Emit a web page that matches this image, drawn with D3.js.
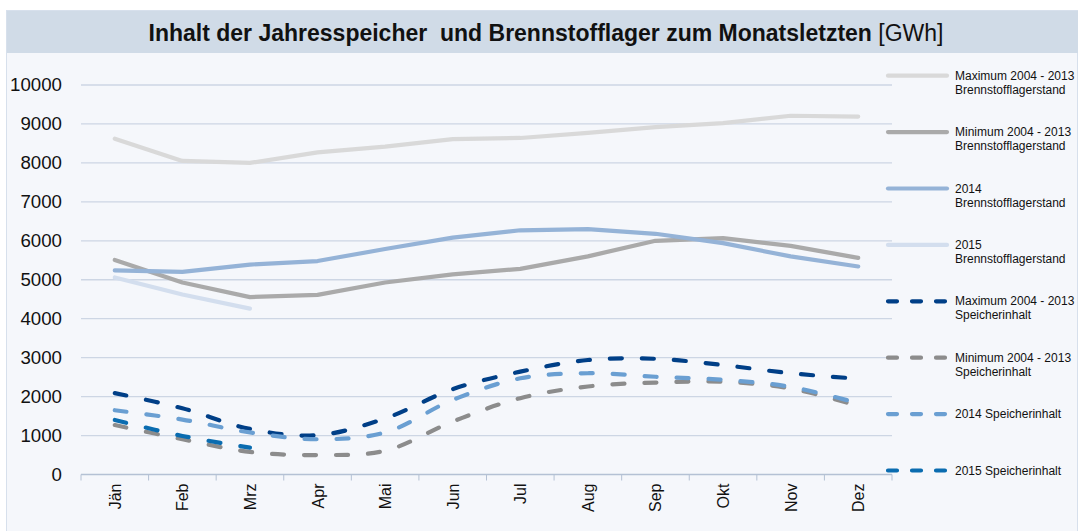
<!DOCTYPE html>
<html>
<head>
<meta charset="utf-8">
<script src="https://cdn.jsdelivr.net/npm/d3@7"></script>
<style>
  body { margin: 0; background: #fff; }
  svg { display: block; font-family: Arial, 'Liberation Sans', sans-serif; }
</style>
</head>
<body>
<svg></svg>
<script>
'use strict'

const months = ['Jän', 'Feb', 'Mrz', 'Apr', 'Mai', 'Jun', 'Jul', 'Aug', 'Sep', 'Okt', 'Nov', 'Dez']
const yTicks = [0, 1000, 2000, 3000, 4000, 5000, 6000, 7000, 8000, 9000, 10000]

const maxBrenn = [8620, 8050, 8000, 8270, 8420, 8610, 8640, 8770, 8920, 9020, 9210, 9190]
const minBrenn = [5510, 4930, 4555, 4610, 4930, 5140, 5280, 5600, 6000, 6070, 5870, 5560]
const brenn2014 = [5240, 5200, 5390, 5480, 5790, 6080, 6270, 6300, 6180, 5940, 5600, 5340]
const brenn2015 = [5060, 4620, 4260]
const maxSpeicher = [2090, 1700, 1170, 1010, 1440, 2190, 2640, 2940, 2970, 2810, 2600, 2460]
const minSpeicher = [1270, 905, 580, 500, 610, 1360, 1960, 2260, 2360, 2380, 2210, 1760]
const speicher2014 = [1650, 1410, 1080, 905, 1080, 1915, 2470, 2600, 2510, 2430, 2250, 1830]
const speicher2015 = [1400, 990, 690]

const series = [
  { name: ['Maximum 2004 - 2013', 'Brennstofflagerstand'], values: maxBrenn, color: '#d9d9d9', dashed: false },
  { name: ['Minimum 2004 - 2013', 'Brennstofflagerstand'], values: minBrenn, color: '#aaaaaa', dashed: false },
  { name: ['2014', 'Brennstofflagerstand'], values: brenn2014, color: '#95b3d7', dashed: false },
  { name: ['2015', 'Brennstofflagerstand'], values: brenn2015, color: '#d3deee', dashed: false },
  { name: ['Maximum 2004 - 2013', 'Speicherinhalt'], values: maxSpeicher, color: '#003f87', dashed: true },
  { name: ['Minimum 2004 - 2013', 'Speicherinhalt'], values: minSpeicher, color: '#8c8c8c', dashed: true },
  { name: ['2014 Speicherinhalt'], values: speicher2014, color: '#6a9fd2', dashed: true },
  { name: ['2015 Speicherinhalt'], values: speicher2015, color: '#0a6cb0', dashed: true }
]

const W = 1078, H = 531
const plot = { left: 81, right: 892, top: 85, bottom: 474.5 }

const svg = d3.select('svg').attr('width', W).attr('height', H)

// chart frame and title bar
svg.append('rect')
  .attr('x', 6.5).attr('y', 10.5).attr('width', W - 7).attr('height', H - 10)
  .attr('fill', '#f5f7fb').attr('stroke', '#d7e0ec')
svg.append('rect')
  .attr('x', 7).attr('y', 11).attr('width', W - 7).attr('height', 42)
  .attr('fill', '#d0dbe7')

const title = svg.append('text')
  .attr('x', 546).attr('y', 41)
  .attr('text-anchor', 'middle')
  .style('font-size', '23px')
  .attr('fill', '#111')
title.append('tspan').style('font-weight', 'bold').text('Inhalt der Jahresspeicher\u00a0 und Brennstofflager zum Monatsletzten ')
title.append('tspan').text('[GWh]')

const x = d3.scaleBand().domain(months).range([plot.left, plot.right])
const y = d3.scaleLinear().domain([0, 10000]).range([plot.bottom, plot.top])

// grid
svg.append('g')
  .selectAll('line')
  .data(yTicks.slice(1))
  .join('line')
  .attr('x1', plot.left).attr('x2', plot.right)
  .attr('y1', d => y(d)).attr('y2', d => y(d))
  .attr('stroke', '#cdd6e4').attr('stroke-width', 1.3)

// y axis labels
svg.append('g')
  .attr('transform', 'translate(' + (plot.left - 19) + ',0)')
  .call(d3.axisLeft(y).tickValues(yTicks).tickSize(0).tickPadding(0).tickFormat(d3.format('d')))
  .call(g => g.select('.domain').remove())
  .selectAll('text')
  .style('font-size', '18.7px')
  .style('font-family', 'Arial, Liberation Sans, sans-serif')
  .attr('fill', '#111')

// x axis
const xAxis = svg.append('g')
  .attr('transform', 'translate(0,' + plot.bottom + ')')
xAxis.append('line')
  .attr('x1', plot.left).attr('x2', plot.right)
  .attr('stroke', '#b4c1d4').attr('stroke-width', 1.3)
xAxis.selectAll('.tick-mark')
  .data(d3.range(months.length + 1))
  .join('line')
  .attr('class', 'tick-mark')
  .attr('x1', i => plot.left + i * x.step()).attr('x2', i => plot.left + i * x.step())
  .attr('y1', 0).attr('y2', 6)
  .attr('stroke', '#b4c1d4')
xAxis.selectAll('text')
  .data(months)
  .join('text')
  .attr('transform', d => 'translate(' + (x(d) + x.bandwidth() / 2 + 6) + ',9) rotate(-90)')
  .attr('text-anchor', 'end')
  .style('font-size', '16px')
  .attr('fill', '#111')
  .text(d => d)

// lines
const line = d3.line()
  .x((d, i) => x(months[i]) + x.bandwidth() / 2)
  .y(d => y(d))

const smooth = d3.line()
  .x((d, i) => x(months[i]) + x.bandwidth() / 2)
  .y(d => y(d))
  .curve(d3.curveCatmullRom.alpha(0.5))

svg.append('g')
  .selectAll('path')
  .data(series)
  .join('path')
  .attr('d', d => d.dashed ? smooth(d.values) : line(d.values))
  .attr('fill', 'none')
  .attr('stroke', d => d.color)
  .attr('stroke-width', 4.2)
  .attr('stroke-linecap', 'round')
  .attr('stroke-linejoin', 'round')
  .attr('stroke-dasharray', d => d.dashed ? '12,20' : null)

// legend
const legend = svg.append('g')
  .selectAll('g')
  .data(series)
  .join('g')
  .attr('transform', (d, i) => 'translate(886,' + (75.7 + i * 56.4) + ')')

legend.append('line')
  .attr('x1', 2).attr('x2', 61)
  .attr('stroke', d => d.color)
  .attr('stroke-width', 4.2)
  .attr('stroke-linecap', 'round')
  .attr('stroke-dasharray', d => d.dashed ? '9,15' : null)

legend.append('text')
  .attr('x', 69)
  .attr('y', 4)
  .style('font-size', '12px')
  .attr('fill', '#111')
  .selectAll('tspan')
  .data(d => d.name)
  .join('tspan')
  .attr('x', 69)
  .attr('dy', (d, i) => i === 0 ? 0 : 14)
  .text(d => d)
</script>
</body>
</html>
